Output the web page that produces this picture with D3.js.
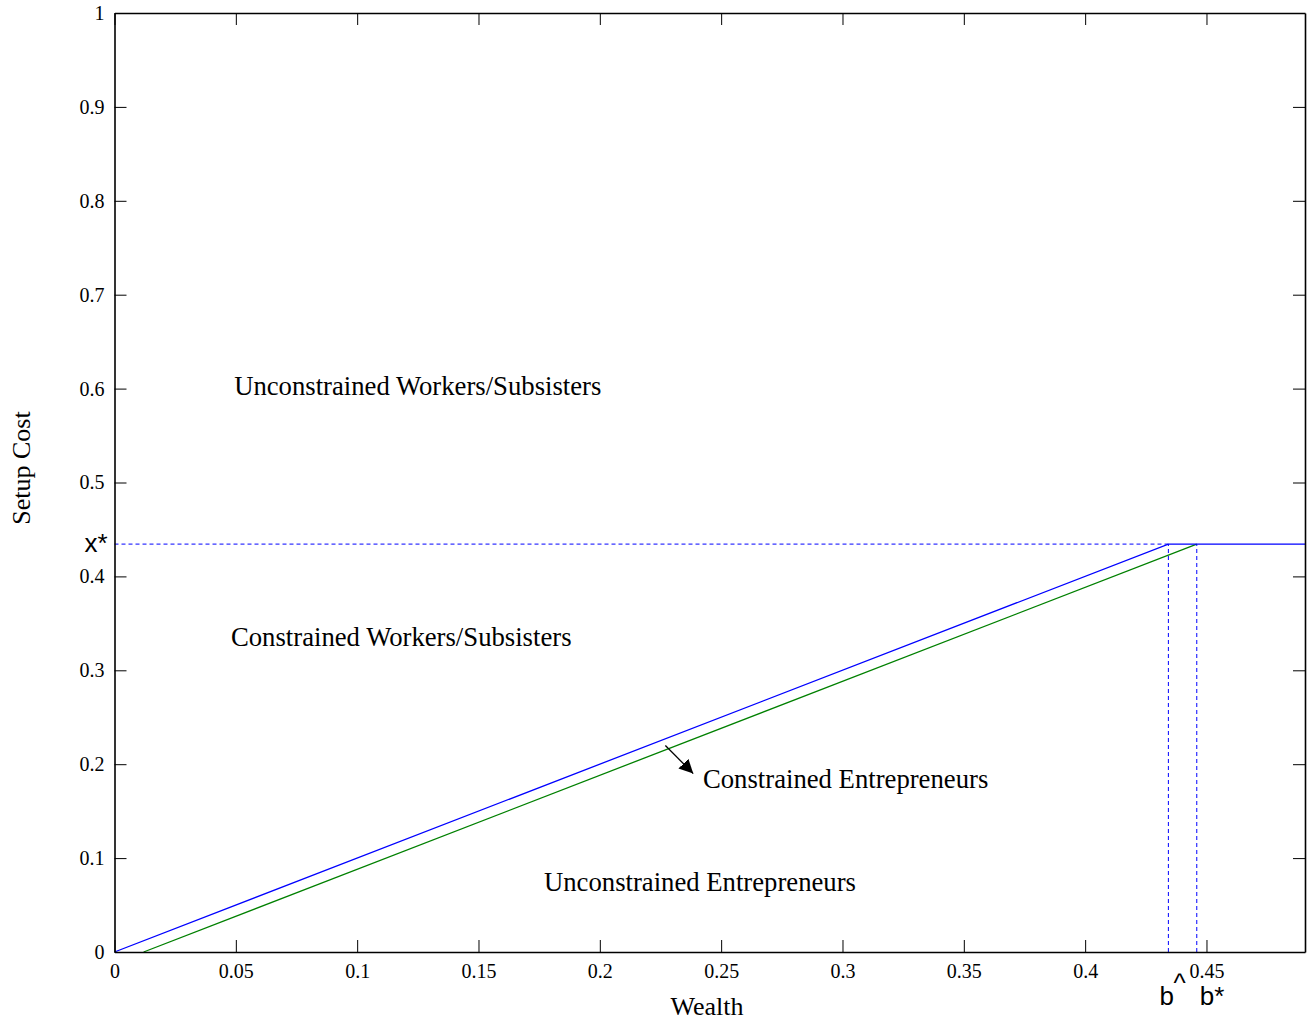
<!DOCTYPE html>
<html>
<head>
<meta charset="utf-8">
<script src="https://cdn.jsdelivr.net/npm/d3@7"></script>
<style>
  body { margin: 0; background: #fff; }
</style>
</head>
<body>
<svg id="canvas" width="1307" height="1024"></svg>
<script>
// values
const xTicks = [0, 0.05, 0.1, 0.15, 0.2, 0.25, 0.3, 0.35, 0.4, 0.45];
const yTicks = [0, 0.1, 0.2, 0.3, 0.4, 0.5, 0.6, 0.7, 0.8, 0.9, 1];
const xMax = 0.4906;
const xStar = 0.4344;     // threshold setup cost
const bHat = 0.4343;      // where blue line meets x*
const bStar = 0.446;      // where green line meets x*
const greenStart = 0.012;

const blueLine = [[0, 0], [bHat, xStar], [xMax, xStar]];
const greenLine = [[greenStart, 0], [bStar, xStar]];

const regionLabels = [
  { text: "Unconstrained Workers/Subsisters", x: 0.0493, y: 0.6035 },
  { text: "Constrained Workers/Subsisters", x: 0.048, y: 0.336 },
  { text: "Constrained Entrepreneurs", x: 0.2425, y: 0.185 },
  { text: "Unconstrained Entrepreneurs", x: 0.177, y: 0.075 }
];
const arrowFrom = [0.227, 0.22];
const arrowTo = [0.2385, 0.19];

const serif = "Liberation Serif, Times New Roman, serif";
const sans = "Liberation Sans, Arial, sans-serif";

const svg = d3.select("#canvas");
const margin = { left: 114.5, right: 2, top: 13, bottom: 72 };
const W = 1307, H = 1024;

const x = d3.scaleLinear().domain([0, xMax]).range([margin.left, W - margin.right]);
const y = d3.scaleLinear().domain([0, 1]).range([H - margin.bottom, margin.top]);

svg.append("defs").append("marker")
  .attr("id", "head")
  .attr("viewBox", "0 0 10 10")
  .attr("refX", 10).attr("refY", 5)
  .attr("markerWidth", 14).attr("markerHeight", 14)
  .attr("markerUnits", "userSpaceOnUse")
  .attr("orient", "auto")
  .append("path").attr("d", "M0,0 L10,5 L0,10 z").attr("fill", "#000");

const line = d3.line().x(d => x(d[0])).y(d => y(d[1]));

// dashed guides
svg.append("line")
  .attr("x1", x(0)).attr("x2", x(bHat))
  .attr("y1", y(xStar)).attr("y2", y(xStar))
  .attr("stroke", "#0000ff").attr("stroke-width", 1).attr("stroke-dasharray", "4,3");
[bHat, bStar].forEach(v => {
  svg.append("line")
    .attr("x1", x(v)).attr("x2", x(v))
    .attr("y1", y(0)).attr("y2", y(xStar))
    .attr("stroke", "#0000ff").attr("stroke-width", 1).attr("stroke-dasharray", "4,3");
});

svg.append("path").datum(greenLine).attr("d", line)
  .attr("fill", "none").attr("stroke", "#008000").attr("stroke-width", 1.3);
svg.append("path").datum(blueLine).attr("d", line)
  .attr("fill", "none").attr("stroke", "#0000ff").attr("stroke-width", 1.3);

// axes with inward ticks on all sides
const tk = 12;
const gx = svg.append("g").attr("transform", `translate(0,${y(0)})`)
  .call(d3.axisBottom(x).tickValues(xTicks).tickSizeInner(-tk).tickSizeOuter(0).tickPadding(8)
    .tickFormat(d => d === 0 ? "0" : String(d)));
const gxt = svg.append("g").attr("transform", `translate(0,${y(1)})`)
  .call(d3.axisTop(x).tickValues(xTicks).tickSizeInner(-tk).tickSizeOuter(0).tickFormat(""));
const gy = svg.append("g").attr("transform", `translate(${x(0)},0)`)
  .call(d3.axisLeft(y).tickValues(yTicks).tickSizeInner(-tk).tickSizeOuter(0).tickPadding(8)
    .tickFormat(d => String(d)));
const gyr = svg.append("g").attr("transform", `translate(${x(xMax)},0)`)
  .call(d3.axisRight(y).tickValues(yTicks).tickSizeInner(-tk).tickSizeOuter(0).tickFormat(""));

[gx, gxt, gy, gyr].forEach(g => {
  g.attr("font-family", serif).attr("font-size", 20);
  g.select(".domain").attr("stroke", "#000").attr("stroke-width", 1.6);
  g.selectAll(".tick line").attr("stroke", "#000").attr("stroke-width", 1);
  g.selectAll("text").attr("fill", "#000");
});
gx.selectAll(".tick text").attr("dy", "0.9em");
gy.selectAll(".tick text").attr("dx", "-0.1em");

// region labels
svg.selectAll(".region").data(regionLabels).enter().append("text")
  .attr("class", "region")
  .attr("x", d => x(d.x)).attr("y", d => y(d.y))
  .attr("dy", "0.35em")
  .attr("font-family", serif)
  .attr("font-size", 26.7).attr("fill", "#000")
  .text(d => d.text);

svg.append("line")
  .attr("x1", x(arrowFrom[0])).attr("y1", y(arrowFrom[1]))
  .attr("x2", x(arrowTo[0])).attr("y2", y(arrowTo[1]))
  .attr("stroke", "#000").attr("stroke-width", 1.3)
  .attr("marker-end", "url(#head)");

// axis titles
svg.append("text").attr("x", 707).attr("y", 1015)
  .attr("text-anchor", "middle").attr("font-family", serif).attr("font-size", 26).text("Wealth");
svg.append("text").attr("transform", "translate(30,468) rotate(-90)")
  .attr("text-anchor", "middle").attr("font-family", serif).attr("font-size", 26).text("Setup Cost");

// sans labels for thresholds
svg.append("text").attr("x", x(0) - 7).attr("y", y(xStar)).attr("dy", "0.3em")
  .attr("text-anchor", "end").attr("font-family", sans).attr("font-size", 26).text("x*");
svg.append("text").attr("x", x(bHat) - 9).attr("y", 1005)
  .attr("font-family", sans).attr("font-size", 26).text("b");
svg.append("text").attr("x", x(bHat) + 5).attr("y", 992)
  .attr("font-family", sans).attr("font-size", 26).text("^");
svg.append("text").attr("x", x(bStar) + 3).attr("y", 1005)
  .attr("font-family", sans).attr("font-size", 26).text("b*");
</script>
</body>
</html>
